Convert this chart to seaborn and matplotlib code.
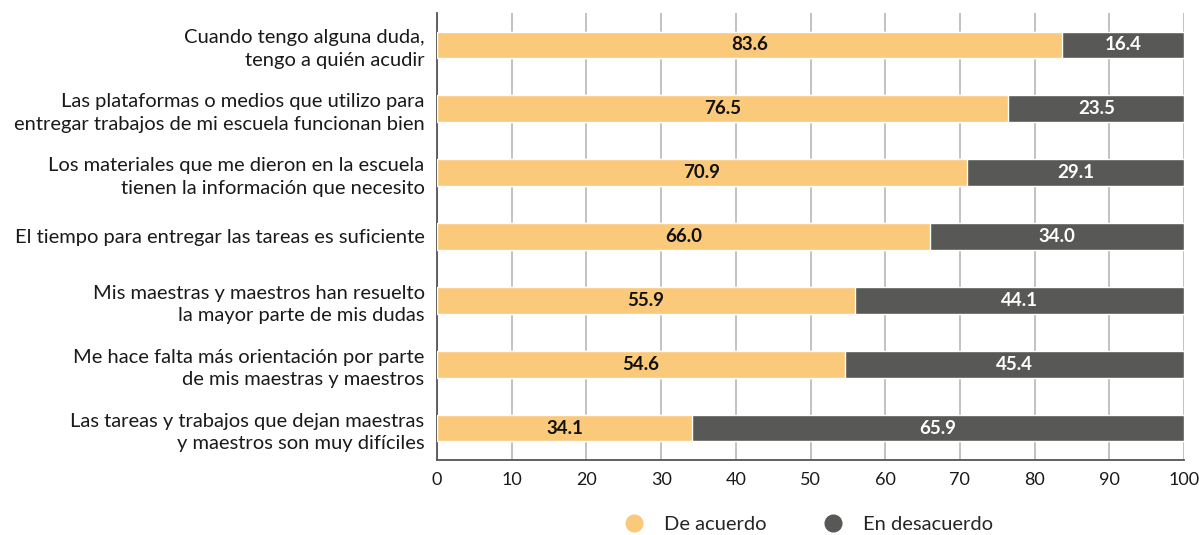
import seaborn as sns
import matplotlib.pyplot as plt
import pandas as pd
from matplotlib.lines import Line2D

sns.set_theme(style='white')
plt.rcParams['font.family'] = ['Lato', 'DejaVu Sans']

# data
statements = [
    'Cuando tengo alguna duda,\ntengo a quién acudir',
    'Las plataformas o medios que utilizo para\nentregar trabajos de mi escuela funcionan bien',
    'Los materiales que me dieron en la escuela\ntienen la información que necesito',
    'El tiempo para entregar las tareas es suficiente',
    'Mis maestras y maestros han resuelto\nla mayor parte de mis dudas',
    'Me hace falta más orientación por parte\nde mis maestras y maestros',
    'Las tareas y trabajos que dejan maestras\ny maestros son muy difíciles',
]
de_acuerdo = [83.6, 76.5, 70.9, 66.0, 55.9, 54.6, 34.1]
en_desacuerdo = [16.4, 23.5, 29.1, 34.0, 44.1, 45.4, 65.9]

c_agree = '#FAC97A'
c_disagree = '#585856'

df = pd.DataFrame({'statement': statements,
                   'agree': de_acuerdo,
                   'disagree': en_desacuerdo})
df['total'] = df['agree'] + df['disagree']

fig = plt.figure(figsize=(11.99, 5.35), dpi=100)
ax = fig.add_axes([0.3645, 0.1402, 0.623, 0.8355])

# stacked: dark total first, orange on top
sns.barplot(data=df, y='statement', x='total', color=c_disagree,
            orient='h', width=0.42, ax=ax, saturation=1, zorder=2)
sns.barplot(data=df, y='statement', x='agree', color=c_agree,
            orient='h', width=0.42, ax=ax, saturation=1, zorder=3)

for i, row in df.iterrows():
    ax.text(row['agree'] / 2, i, f"{row['agree']:.1f}", ha='center', va='center',
            fontsize=13.5, fontweight='bold', color='#111111', zorder=4)
    ax.text(row['agree'] + row['disagree'] / 2, i, f"{row['disagree']:.1f}",
            ha='center', va='center', fontsize=13.5, fontweight='bold',
            color='white', zorder=4)

ax.set_xlim(0, 100)
ax.set_ylim(6.5, -0.5)
ax.set_xticks(range(0, 101, 10))
ax.xaxis.grid(True, color='#b8b8b8', linewidth=1.2, zorder=0)
ax.set_axisbelow(True)
ax.set_xlabel('')
ax.set_ylabel('')
ax.tick_params(axis='y', length=0, pad=9, labelsize=14.5, labelcolor='#1a1a1a')
ax.tick_params(axis='x', length=0, pad=9, labelsize=13, labelcolor='#1a1a1a')
for lbl in ax.get_yticklabels():
    lbl.set_horizontalalignment('right')
    lbl.set_multialignment('right')
    lbl.set_linespacing(1.4)

for s in ['top', 'right']:
    ax.spines[s].set_visible(False)
for s in ['left', 'bottom']:
    ax.spines[s].set_color('#555555')
    ax.spines[s].set_linewidth(1.3)

handles = [Line2D([], [], marker='o', linestyle='', markersize=12,
                  markerfacecolor=c_agree, markeredgecolor=c_agree),
           Line2D([], [], marker='o', linestyle='', markersize=12,
                  markerfacecolor=c_disagree, markeredgecolor=c_disagree)]
fig.legend(handles, ['De acuerdo', 'En desacuerdo'], loc='lower center',
           bbox_to_anchor=(0.67, -0.03), ncol=2, frameon=False,
           fontsize=14.5, handletextpad=0.5, columnspacing=2.3)

fig.savefig('out.png', dpi=100)
